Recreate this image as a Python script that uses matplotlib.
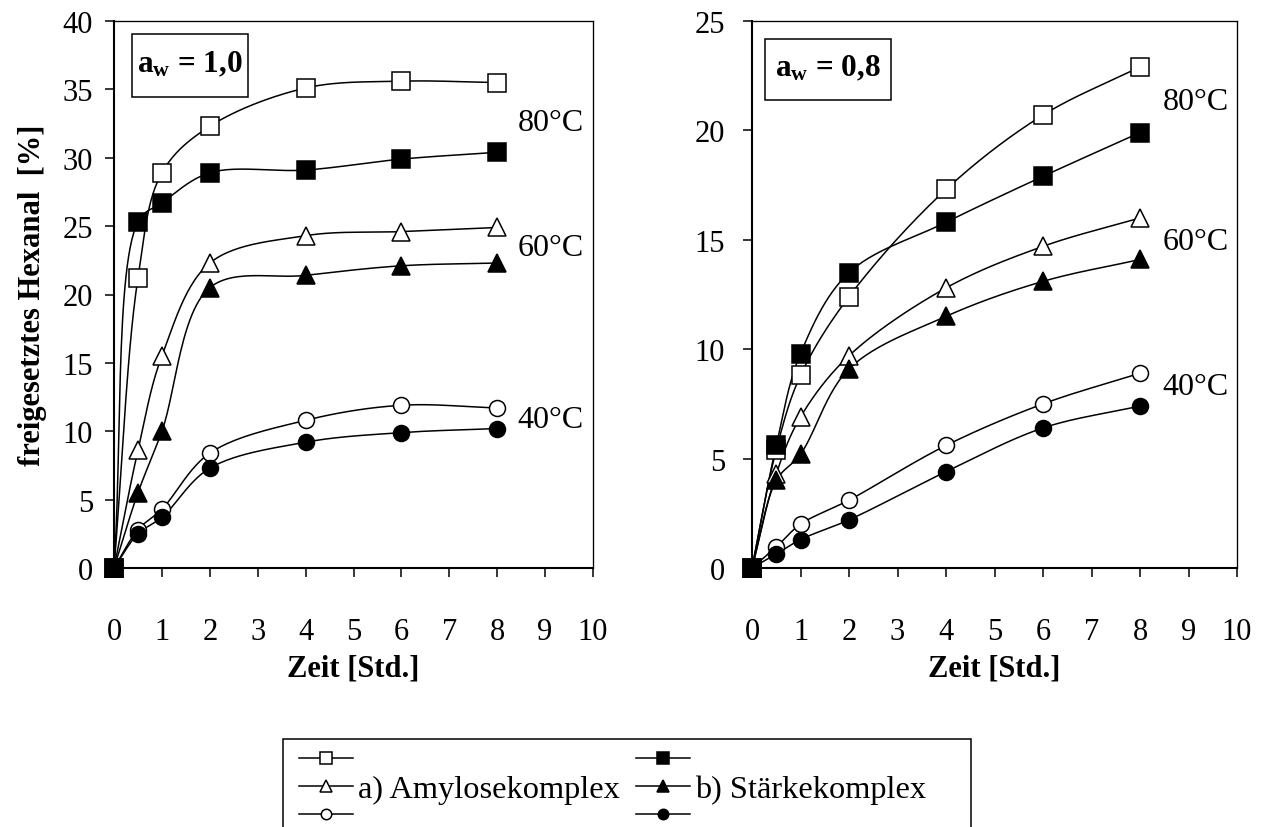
import numpy as np
import matplotlib
matplotlib.use("Agg")
import matplotlib.pyplot as plt
from matplotlib.lines import Line2D
from matplotlib.patches import Rectangle

plt.rcParams['font.family'] = ['Liberation Serif', 'DejaVu Serif']
plt.rcParams['mathtext.fontset'] = 'custom'
plt.rcParams['mathtext.rm'] = 'Liberation Serif'
plt.rcParams['mathtext.bf'] = 'Liberation Serif:bold'
plt.rcParams['mathtext.it'] = 'Liberation Serif:italic'

# Sampling times [h]
time_h = [0, 0.5, 1, 2, 4, 6, 8]

# Released hexanal [%] at a_w = 1.0
aw10_amylose_80 = [0, 21.2, 28.9, 32.3, 35.1, 35.6, 35.5]
aw10_starch_80 = [0, 25.3, 26.7, 28.9, 29.1, 29.9, 30.4]
aw10_amylose_60 = [0, 8.6, 15.5, 22.3, 24.3, 24.6, 24.9]
aw10_starch_60 = [0, 5.5, 10.0, 20.5, 21.4, 22.1, 22.3]
aw10_amylose_40 = [0, 2.8, 4.3, 8.4, 10.8, 11.9, 11.7]
aw10_starch_40 = [0, 2.5, 3.7, 7.3, 9.2, 9.9, 10.2]

# Released hexanal [%] at a_w = 0.8
aw08_amylose_80 = [0, 5.4, 8.8, 12.4, 17.3, 20.7, 22.9]
aw08_starch_80 = [0, 5.6, 9.8, 13.5, 15.8, 17.9, 19.9]
aw08_amylose_60 = [0, 4.3, 6.9, 9.7, 12.8, 14.7, 16.0]
aw08_starch_60 = [0, 4.0, 5.2, 9.1, 11.5, 13.1, 14.1]
aw08_amylose_40 = [0, 0.96, 2.0, 3.1, 5.6, 7.5, 8.9]
aw08_starch_40 = [0, 0.64, 1.3, 2.2, 4.4, 6.4, 7.4]

temp_labels = ["80°C", "60°C", "40°C"]
aw10_label_pos = [(8.43, 32.55), (8.43, 23.45), (8.43, 10.85)]
aw08_label_pos = [(8.47, 21.3), (8.47, 14.9), (8.47, 8.3)]

legend_labels = ["", "a) Amylosekomplex", "", "", "b) Stärkekomplex", ""]

# marker styles: (marker, size, filled)
styles = [('s', 13, False), ('s', 13, True),
          ('^', 13, False), ('^', 13, True),
          ('o', 11.5, False), ('o', 11.5, True)]

LW = 1.1
W, H = 1269, 828
AX_W_PX, AX_H_PX = 479.0, 547.0


def smooth_curve(x, y, xmax, ymax, n=30, alpha=0.5):
    """Centripetal Catmull-Rom spline through the points, built in screen scale."""
    sx_, sy_ = AX_W_PX / xmax, AX_H_PX / ymax
    pts = np.column_stack([np.asarray(x, float) * sx_, np.asarray(y, float) * sy_])
    ext = np.vstack([2 * pts[0] - pts[1], pts, 2 * pts[-1] - pts[-2]])
    t = np.linspace(0, 1, n)[1:, None]
    out = [pts[0]]
    for i in range(1, len(ext) - 2):
        p0, p1, p2, p3 = ext[i - 1], ext[i], ext[i + 1], ext[i + 2]
        d0 = max(np.linalg.norm(p1 - p0) ** alpha, 1e-9)
        d1 = max(np.linalg.norm(p2 - p1) ** alpha, 1e-9)
        d2 = max(np.linalg.norm(p3 - p2) ** alpha, 1e-9)
        m1 = (p1 - p0) / d0 - (p2 - p0) / (d0 + d1) + (p2 - p1) / d1
        m2 = (p2 - p1) / d1 - (p3 - p1) / (d1 + d2) + (p3 - p2) / d2
        c1 = p1 + m1 * d1 / 3.0
        c2 = p2 - m2 * d1 / 3.0
        seg = ((1 - t) ** 3) * p1 + 3 * ((1 - t) ** 2) * t * c1 \
            + 3 * (1 - t) * (t ** 2) * c2 + (t ** 3) * p2
        out.extend(seg)
    out = np.array(out)
    return out[:, 0] / sx_, out[:, 1] / sy_


def draw_panel(ax, series, ymax, ystep, label_pos, aw_text, box, ypad):
    for vals, (mk, ms, filled) in zip(series, styles):
        cx, cy = smooth_curve(time_h, vals, 10, ymax)
        ax.plot(cx, cy, color='black', lw=LW, zorder=2)
        ax.plot(time_h, vals, linestyle='none', marker=mk, ms=ms,
                mfc='black' if filled else 'white', mec='black', mew=LW,
                zorder=3, clip_on=False)
    ax.set_xlim(0, 10)
    ax.set_ylim(0, ymax)
    ax.set_xticks(np.arange(0, 11, 1))
    ax.set_yticks(np.arange(0, ymax + 0.1, ystep))
    ax.tick_params(axis='x', direction='out', length=6.5, width=1.1,
                   labelsize=22, pad=29)
    ax.tick_params(axis='y', direction='out', length=6.5, width=1.1,
                   labelsize=22, pad=ypad)
    for side in ('left', 'bottom'):
        ax.spines[side].set_linewidth(1.5)
    for side in ('top', 'right'):
        ax.spines[side].set_linewidth(0.95)
    ax.set_xlabel("Zeit [Std.]", fontsize=22, fontweight='bold', labelpad=5.5)
    for txt, (tx, ty) in zip(temp_labels, label_pos):
        ax.text(tx, ty, txt, fontsize=23, ha='left', va='center')
    x0, x1, y0, y1 = box
    ax.add_patch(Rectangle((x0, y0), x1 - x0, y1 - y0, transform=ax.transAxes,
                           fc='white', ec='black', lw=1.1, zorder=5))
    ax.text((x0 + x1) / 2, (y0 + y1) / 2 + 0.004, aw_text, transform=ax.transAxes,
            fontsize=22.5, fontweight='bold', ha='center', va='center', zorder=6)


fig = plt.figure(figsize=(12.69, 8.28), dpi=100)
ax1 = fig.add_axes([114 / W, 1 - 569 / H, (593 - 114) / W, (569 - 22) / H])
ax2 = fig.add_axes([752 / W, 1 - 569 / H, (1237 - 752) / W, (569 - 22) / H])

draw_panel(ax1, [aw10_amylose_80, aw10_starch_80, aw10_amylose_60,
                 aw10_starch_60, aw10_amylose_40, aw10_starch_40],
           40, 5, aw10_label_pos, r"$\mathbf{a}_{\mathbf{w}}$ = 1,0",
           (0.0376, 0.2797, 0.861, 0.976), 8.6)
draw_panel(ax2, [aw08_amylose_80, aw08_starch_80, aw08_amylose_60,
                 aw08_starch_60, aw08_amylose_40, aw08_starch_40],
           25, 5, aw08_label_pos, r"$\mathbf{a}_{\mathbf{w}}$ = 0,8",
           (0.0268, 0.2866, 0.8556, 0.967), 13)

ax1.set_ylabel("freigesetztes Hexanal  [%]", fontsize=22, fontweight='bold',
               labelpad=11)

# Legend: open symbols = amylose complex, filled symbols = starch complex
leg_styles = [('s', 9, False), ('^', 9, False), ('o', 7.5, False),
              ('s', 9, True), ('^', 9, True), ('o', 7.5, True)]
handles = [Line2D([], [], color='black', lw=LW, marker=mk, ms=ms,
                  mfc='black' if filled else 'white', mec='black', mew=LW)
           for mk, ms, filled in leg_styles]
leg = fig.legend(handles, legend_labels, ncol=2, loc='upper left',
                 bbox_to_anchor=(299 / W, 1 - 747.5 / H), fontsize=23.3,
                 frameon=False, borderpad=0, borderaxespad=0,
                 labelspacing=-0.05, handlelength=1.67, handletextpad=0.15,
                 columnspacing=0.5)
fig.add_artist(Rectangle((283 / W, -0.05), (971 - 283) / W, 0.05 + 1 - 740 / H,
                         transform=fig.transFigure, fill=False, ec='black',
                         lw=1.1))

fig.savefig("out.png", dpi=100)
